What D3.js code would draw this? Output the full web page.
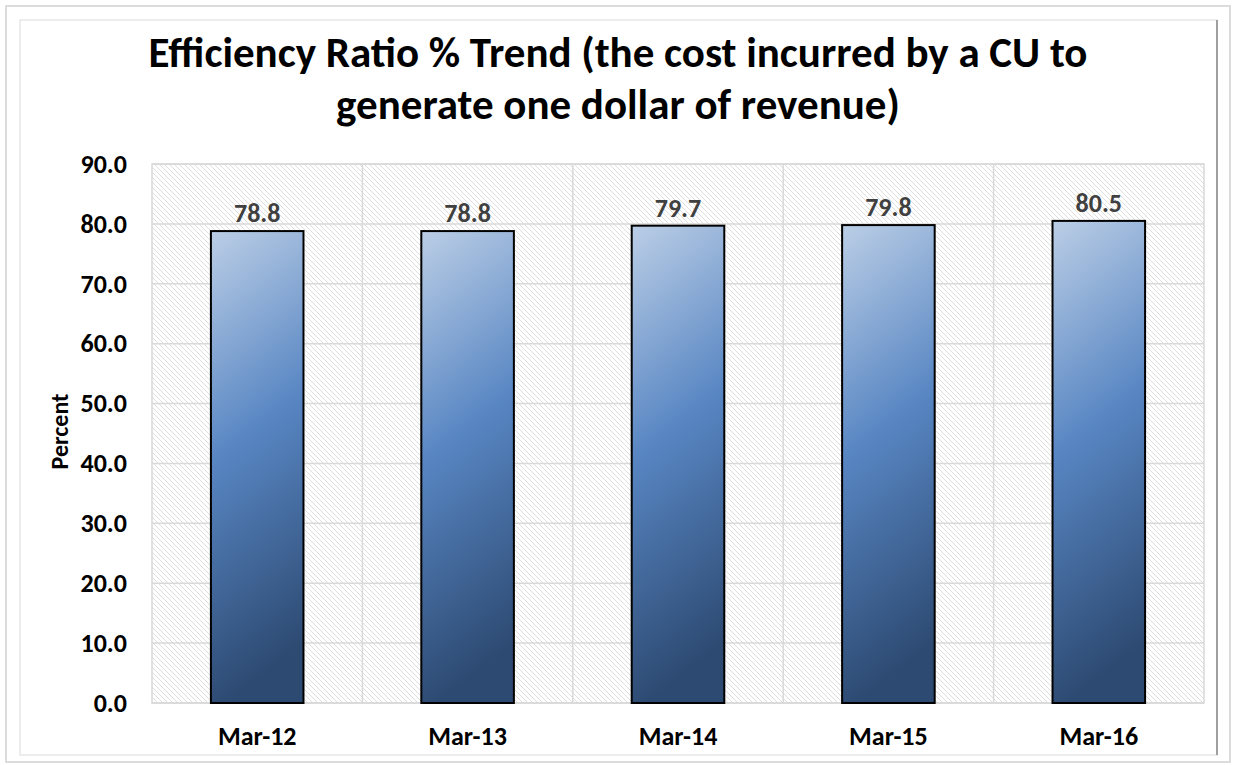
<!DOCTYPE html>
<html>
<head>
<meta charset="utf-8">
<script src="https://cdn.jsdelivr.net/npm/d3@7"></script>
<style>
  body { margin: 0; background: #fff; }
  text { font-family: Carlito, Lato, "Open Sans", sans-serif; font-weight: bold; }
</style>
</head>
<body>
<div class="canvas"></div>
<script>
const categories = ['Mar-12', 'Mar-13', 'Mar-14', 'Mar-15', 'Mar-16']
const values = [78.8, 78.8, 79.7, 79.8, 80.5]
const yTicks = [0, 10, 20, 30, 40, 50, 60, 70, 80, 90]
const titleLines = ['Efficiency Ratio % Trend (the cost incurred by a CU to', 'generate one dollar of revenue)']

const width = 1233, height = 765
const svg = d3.select('.canvas').append('svg')
    .attr('width', width)
    .attr('height', height)

const plot = { left: 152, top: 164, right: 1204, bottom: 703 }
const fontStack = 'Carlito, Lato, "Open Sans", sans-serif'

const defs = svg.append('defs')

// hatch background of the plot area
const hatch = defs.append('pattern')
    .attr('id', 'hatch')
    .attr('patternUnits', 'userSpaceOnUse')
    .attr('width', 5)
    .attr('height', 5)
hatch.append('rect').attr('width', 5).attr('height', 5).attr('fill', '#fff')
hatch.append('path')
    .attr('d', 'M-1,-1 L6,6 M-1,4 L1,6 M4,-1 L6,1')
    .attr('stroke', '#dedede')
    .attr('stroke-width', 1)

const grad = defs.append('linearGradient')
    .attr('id', 'barGrad')
    .attr('x1', 0).attr('y1', 0)
    .attr('x2', 0.15).attr('y2', 1)
grad.append('stop').attr('offset', '0%').attr('stop-color', '#bbcee6')
grad.append('stop').attr('offset', '48%').attr('stop-color', '#5886c3')
grad.append('stop').attr('offset', '100%').attr('stop-color', '#2d4a72')

// frames
svg.append('rect')
    .attr('x', 6).attr('y', 6)
    .attr('width', 1224).attr('height', 756)
    .attr('fill', 'none')
    .attr('stroke', '#dcdcdc')
    .attr('stroke-width', 2)
svg.append('rect')
    .attr('x', 20).attr('y', 20)
    .attr('width', 1197).attr('height', 735)
    .attr('fill', '#fff')
    .attr('stroke', '#e6e6e6')
    .attr('stroke-width', 1.5)
svg.append('line')
    .attr('x1', 1217).attr('x2', 1217)
    .attr('y1', 20).attr('y2', 755)
    .attr('stroke', '#a0a0a0')
    .attr('stroke-width', 2)

const x = d3.scaleBand()
    .domain(categories)
    .range([plot.left, plot.right])
    .paddingInner(0.56)
    .paddingOuter(0.28)

const y = d3.scaleLinear()
    .domain([0, 90])
    .range([plot.bottom, plot.top])

svg.append('rect')
    .attr('x', plot.left).attr('y', plot.top)
    .attr('width', plot.right - plot.left)
    .attr('height', plot.bottom - plot.top)
    .attr('fill', 'url(#hatch)')
    .attr('stroke', '#d9d9d9')
    .attr('stroke-width', 1.5)

// horizontal gridlines
svg.append('g')
    .selectAll('line')
    .data(yTicks)
    .join('line')
    .attr('x1', plot.left).attr('x2', plot.right)
    .attr('y1', d => y(d)).attr('y2', d => y(d))
    .attr('stroke', '#d9d9d9')
    .attr('stroke-width', 1.5)

// vertical gridlines between categories
svg.append('g')
    .selectAll('line')
    .data(categories.slice(1))
    .join('line')
    .attr('x1', d => x(d) - x.step() * x.paddingInner() / 2)
    .attr('x2', d => x(d) - x.step() * x.paddingInner() / 2)
    .attr('y1', plot.top).attr('y2', plot.bottom)
    .attr('stroke', '#d9d9d9')
    .attr('stroke-width', 1.5)

// y axis labels
const yAxis = svg.append('g')
    .attr('transform', `translate(${plot.left},0)`)
    .call(d3.axisLeft(y).tickValues(yTicks).tickFormat(d3.format('.1f')).tickSize(0).tickPadding(25))
yAxis.select('.domain').remove()
yAxis.selectAll('text')
    .attr('font-size', 26)
    .attr('fill', '#000')
    .style('font-family', fontStack)

// x axis labels
const xAxis = svg.append('g')
    .attr('transform', `translate(0,${plot.bottom})`)
    .call(d3.axisBottom(x).tickSize(0).tickPadding(24))
xAxis.select('.domain').remove()
xAxis.selectAll('text')
    .attr('font-size', 26)
    .attr('fill', '#000')
    .style('font-family', fontStack)

// bars
svg.append('g')
    .selectAll('rect')
    .data(values)
    .join('rect')
    .attr('x', (d, i) => x(categories[i]))
    .attr('y', d => y(d))
    .attr('width', x.bandwidth())
    .attr('height', d => y(0) - y(d))
    .attr('fill', 'url(#barGrad)')
    .attr('stroke', '#000')
    .attr('stroke-width', 2)

// value labels
svg.append('g')
    .selectAll('text')
    .data(values)
    .join('text')
    .attr('x', (d, i) => x(categories[i]) + x.bandwidth() / 2)
    .attr('y', d => y(d) - 9)
    .attr('text-anchor', 'middle')
    .attr('font-size', 26)
    .attr('fill', '#404040')
    .text(d => d.toFixed(1))

// title
svg.append('g')
    .selectAll('text')
    .data(titleLines)
    .join('text')
    .attr('x', 618)
    .attr('y', (d, i) => 67 + i * 52)
    .attr('text-anchor', 'middle')
    .attr('font-size', 43)
    .attr('fill', '#000')
    .text(d => d)

svg.append('text')
    .attr('transform', `translate(68,${(plot.top + plot.bottom) / 2 - 2}) rotate(-90)`)
    .attr('text-anchor', 'middle')
    .attr('font-size', 24)
    .attr('fill', '#000')
    .text('Percent')
</script>
</body>
</html>
